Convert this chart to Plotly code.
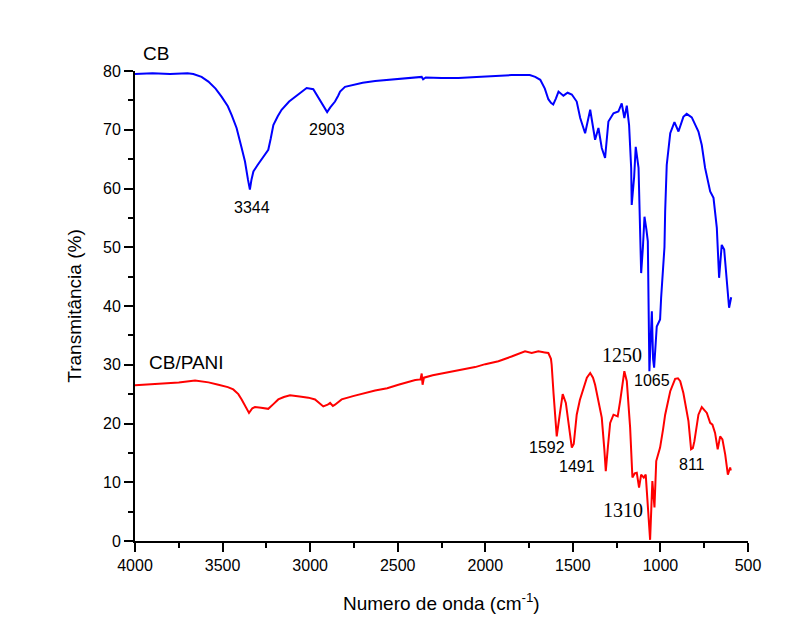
import plotly.graph_objects as go

# ---- data ----
cb_wn = [4000, 3900, 3800, 3700, 3667, 3620, 3581, 3540, 3505, 3470, 3448, 3420, 3391, 3372, 3355, 3344,
         3335, 3324, 3300, 3286, 3260, 3239, 3225, 3210, 3185, 3163, 3120, 3086, 3050, 3020, 2982, 2960,
         2934, 2915, 2903, 2885, 2870, 2858, 2840, 2829, 2801, 2750, 2700, 2629, 2550, 2439, 2380, 2363,
         2355, 2340, 2250, 2153, 2050, 1950, 1850, 1780, 1746, 1715, 1686, 1660, 1640, 1625, 1612, 1597,
         1582, 1554, 1530, 1506, 1478, 1458, 1430, 1401, 1373, 1354, 1335, 1316, 1297, 1268, 1240, 1221,
         1206, 1192, 1179, 1167, 1164, 1150, 1141, 1125, 1110, 1100, 1091, 1080, 1072, 1063, 1056, 1049,
         1042, 1036, 1021, 1002, 996, 983, 977, 973, 964, 944, 920, 897, 869, 850, 821, 783, 764, 745, 716,
         697, 678, 665, 650, 636, 621, 608, 596]
cb_t = [79.5, 79.6, 79.5, 79.6, 79.5, 79.0, 78.2, 77.0, 75.6, 74.0, 72.5, 70.3, 66.9, 64.6, 61.5, 59.8,
        61.5, 62.9, 64.0, 64.6, 65.8, 66.6, 68.5, 70.8, 72.3, 73.4, 74.8, 75.6, 76.5, 77.1, 76.9, 75.8,
        74.5, 73.6, 73.0, 73.8, 74.3, 74.8, 75.8, 76.5, 77.3, 77.7, 78.0, 78.3, 78.5, 78.8, 78.9, 79.0,
        78.6, 78.9, 78.8, 78.8, 79.0, 79.2, 79.3, 79.3, 79.3, 79.0, 78.5, 77.0, 75.2, 74.6, 74.3, 75.3,
        76.5, 75.8, 76.3, 76.0, 74.8, 72.0, 69.4, 73.4, 68.3, 70.3, 66.9, 65.2, 71.4, 72.8, 73.1, 74.5,
        72.0, 74.1, 70.8, 63.5, 57.2, 62.0, 67.1, 63.5, 45.6, 50.0, 55.2, 53.0, 51.0, 28.9, 33.0, 39.1,
        31.0, 29.5, 36.5, 37.7, 41.4, 47.0, 50.0, 56.1, 64.0, 69.4, 71.3, 69.7, 72.2, 72.7, 72.1, 69.7,
        67.4, 63.5, 59.5, 58.4, 53.3, 44.8, 50.4, 49.6, 44.2, 39.7, 41.5]

pani_wn = [4000, 3867, 3750, 3657, 3580, 3524, 3470, 3439, 3410, 3391, 3370, 3349, 3330, 3315, 3280,
           3239, 3210, 3182, 3150, 3115, 3060, 3010, 2972, 2950, 2925, 2900, 2886, 2870, 2858, 2820,
           2750, 2629, 2560, 2496, 2400, 2370, 2363, 2358, 2350, 2300, 2249, 2150, 2058, 2000, 1925,
           1850, 1800, 1773, 1735, 1697, 1660, 1640, 1625, 1621, 1610, 1600, 1592, 1575, 1558, 1540,
           1520, 1506, 1495, 1478, 1460, 1440, 1420, 1401, 1385, 1373, 1355, 1335, 1320, 1312, 1300,
           1287, 1268, 1244, 1230, 1215, 1206, 1192, 1173, 1160, 1147, 1135, 1122, 1110, 1095, 1084,
           1068, 1059, 1046, 1034, 1024, 1002, 985, 973, 944, 916, 900, 887, 869, 840, 825, 815, 806,
           783, 764, 750, 735, 716, 703, 688, 673, 659, 646, 630, 615, 602, 598]
pani_t = [26.5, 26.7, 27.0, 27.3, 27.0, 26.6, 26.2, 25.8, 25.0, 24.1, 23.0, 21.8, 22.6, 22.8, 22.7,
          22.5, 23.3, 24.1, 24.5, 24.8, 24.6, 24.4, 24.1, 23.5, 22.9, 23.2, 23.5, 23.0, 23.2, 24.1,
          24.7, 25.6, 26.0, 26.6, 27.4, 27.5, 28.5, 26.6, 27.8, 28.2, 28.5, 29.0, 29.6, 30.1, 30.6,
          31.4, 31.9, 32.3, 32.0, 32.3, 32.1, 32.0, 31.0, 30.0, 25.0, 21.0, 17.8, 21.5, 25.0, 23.5,
          19.5, 15.9, 16.5, 21.5, 24.0, 26.1, 27.8, 28.6, 27.8, 26.6, 24.0, 21.0, 15.5, 11.9, 16.0,
          20.1, 21.5, 21.2, 23.8, 27.5, 28.9, 27.2, 19.3, 10.8, 11.5, 11.6, 9.1, 11.3, 10.8, 11.3,
          3.4, 0.2, 10.2, 5.7, 13.6, 15.9, 19.0, 21.5, 25.5, 27.6, 27.7, 27.2, 25.2, 20.4, 15.6, 15.8, 17.0,
          21.5, 22.8, 22.4, 21.8, 20.1, 19.8, 18.4, 15.6, 17.8, 17.3, 14.7, 11.3, 12.5, 12.0]

series_names = ["CB", "CB/PANI"]

# peak labels: text, x (cm-1), y (%), serif?
peak_text = ["3344", "2903", "1592", "1491", "1250", "1310", "1065", "811"]
peak_x = [3334, 2906, 1650, 1475, 1221, 1211, 1049, 821]
peak_y = [56.8, 70.0, 15.9, 12.6, 31.6, 5.2, 27.3, 13.0]
peak_serif = [False, False, False, False, True, True, False, False]

# series name labels (x in cm-1, y in % of the 0-80 axis)
name_x = [3878, 3705]
name_y = [83.0, 30.3]

x_ticks = [4000, 3500, 3000, 2500, 2000, 1500, 1000, 500]
y_ticks = [0, 10, 20, 30, 40, 50, 60, 70, 80]
Y_MAX = 80

SANS = "Liberation Sans, Arial, sans-serif"
SERIF = "Liberation Serif, Times New Roman, serif"

fig = go.Figure()
fig.add_trace(go.Scatter(x=cb_wn, y=cb_t, mode="lines", name=series_names[0],
                         line=dict(color="#0000FF", width=2)))
fig.add_trace(go.Scatter(x=pani_wn, y=pani_t, mode="lines", name=series_names[1],
                         line=dict(color="#FF0000", width=2)))

annotations = []
for t, x, y, s in zip(peak_text, peak_x, peak_y, peak_serif):
    annotations.append(dict(x=x, y=y, xref="x", yref="y", text=t, showarrow=False,
                            xanchor="center", yanchor="middle",
                            font=dict(family=SERIF if s else SANS, size=20 if s else 16, color="black")))
for t, x, y in zip(series_names, name_x, name_y):
    annotations.append(dict(x=x, y=y / Y_MAX, xref="x", yref="paper", text=t, showarrow=False,
                            xanchor="center", yanchor="middle",
                            font=dict(family=SANS, size=19, color="black")))
# axis titles
annotations.append(dict(x=0.5, y=-0.129, xref="paper", yref="paper", text="Numero de onda (cm<sup>-1</sup>)",
                        showarrow=False, font=dict(family=SANS, size=19, color="black"),
                        xanchor="center", yanchor="middle"))
annotations.append(dict(x=-0.1, y=0.5, xref="paper", yref="paper", text="Transmitância (%)",
                        showarrow=False, textangle=-90, font=dict(family=SANS, size=19, color="black"),
                        xanchor="center", yanchor="middle"))

fig.update_layout(
    width=808, height=620,
    margin=dict(l=127, r=68, t=63, b=87, pad=0),
    paper_bgcolor="white", plot_bgcolor="white",
    showlegend=False,
    annotations=annotations,
    font=dict(family=SANS, size=16, color="black"),
)
fig.update_xaxes(range=[4000, 500], tickvals=x_ticks, ticks="outside", ticklen=9, tickwidth=1.5,
                 tickcolor="black", showline=True, linecolor="black", linewidth=2, showgrid=False,
                 zeroline=False, tickfont=dict(family=SANS, size=16, color="black"),
                 minor=dict(ticks="outside", ticklen=5, tickwidth=1.5, tickcolor="black", dtick=250, tick0=500))
fig.update_yaxes(range=[0, Y_MAX], tickvals=y_ticks, ticks="outside", ticklen=9, tickwidth=1.5,
                 tickcolor="black", showline=True, linecolor="black", linewidth=2, showgrid=False,
                 zeroline=False, tickfont=dict(family=SANS, size=16, color="black"),
                 minor=dict(ticks="outside", ticklen=5, tickwidth=1.5, tickcolor="black", dtick=5, tick0=0))

fig.write_html("out.html")
